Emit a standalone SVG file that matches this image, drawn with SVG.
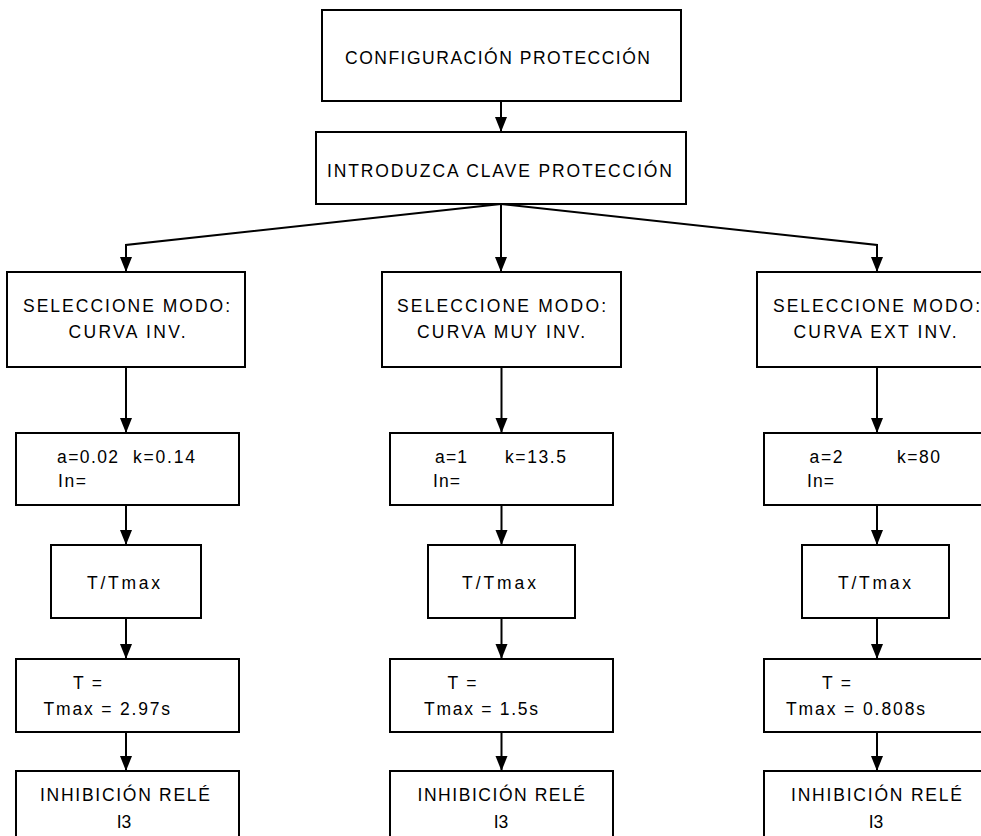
<svg xmlns="http://www.w3.org/2000/svg" width="981" height="836" viewBox="0 0 981 836">
<style>
.box{fill:#fff;stroke:#000;stroke-width:2}
.t{font-family:"Liberation Sans",Arial,sans-serif;font-size:17.5px;fill:#000}
.c{fill:none;stroke:#000;stroke-width:2}
</style>
<defs>
<marker id="ah" markerUnits="userSpaceOnUse" markerWidth="16" markerHeight="14" refX="15" refY="0" viewBox="0 -7 16 14" orient="auto" overflow="visible">
<path d="M0,-6 L15,0 L0,6 z" fill="#000"/>
</marker>
</defs>
<rect width="981" height="836" fill="#fff"/>
<g id="connectors">
<line class="c" x1="501" y1="101" x2="501" y2="132" marker-end="url(#ah)"/>
<polyline class="c" points="501,204 126,245 126,272" marker-end="url(#ah)"/>
<line class="c" x1="501" y1="204" x2="501" y2="272" marker-end="url(#ah)"/>
<polyline class="c" points="501,204 877,245 877,272" marker-end="url(#ah)"/>
<line class="c" x1="126" y1="367" x2="126" y2="433" marker-end="url(#ah)"/>
<line class="c" x1="501.5" y1="367" x2="501.5" y2="433" marker-end="url(#ah)"/>
<line class="c" x1="877" y1="367" x2="877" y2="433" marker-end="url(#ah)"/>
<line class="c" x1="126" y1="505" x2="126" y2="545" marker-end="url(#ah)"/>
<line class="c" x1="501.5" y1="505" x2="501.5" y2="545" marker-end="url(#ah)"/>
<line class="c" x1="877" y1="505" x2="877" y2="545" marker-end="url(#ah)"/>
<line class="c" x1="126" y1="618" x2="126" y2="659" marker-end="url(#ah)"/>
<line class="c" x1="501.5" y1="618" x2="501.5" y2="659" marker-end="url(#ah)"/>
<line class="c" x1="877" y1="618" x2="877" y2="659" marker-end="url(#ah)"/>
<line class="c" x1="126" y1="732" x2="126" y2="771" marker-end="url(#ah)"/>
<line class="c" x1="501.5" y1="732" x2="501.5" y2="771" marker-end="url(#ah)"/>
<line class="c" x1="877" y1="732" x2="877" y2="771" marker-end="url(#ah)"/>
</g>
<g id="config">
<rect class="box" x="322" y="10" width="359" height="91"/>
<text class="t" x="345" y="63.5" textLength="305" lengthAdjust="spacing">CONFIGURACIÓN PROTECCIÓN</text>
</g>
<g id="clave">
<rect class="box" x="316" y="132" width="370" height="72"/>
<text class="t" x="327" y="176.5" textLength="345" lengthAdjust="spacing">INTRODUZCA CLAVE PROTECCIÓN</text>
</g>
<g id="modo-inv">
<rect class="box" x="7" y="272" width="238" height="95"/>
<text class="t" x="23" y="311.5" textLength="207" lengthAdjust="spacing">SELECCIONE MODO:</text>
<text class="t" x="68.5" y="338" textLength="117" lengthAdjust="spacing">CURVA INV.</text>
</g>
<g id="modo-muy">
<rect class="box" x="382" y="272" width="239" height="95"/>
<text class="t" x="397" y="311.5" textLength="209" lengthAdjust="spacing">SELECCIONE MODO:</text>
<text class="t" x="417" y="338" textLength="168" lengthAdjust="spacing">CURVA MUY INV.</text>
</g>
<g id="modo-ext">
<rect class="box" x="757" y="272" width="239" height="95"/>
<text class="t" x="773" y="311.5" textLength="207" lengthAdjust="spacing">SELECCIONE MODO:</text>
<text class="t" x="793.5" y="338" textLength="163" lengthAdjust="spacing">CURVA EXT INV.</text>
</g>
<g id="param-inv">
<rect class="box" x="16" y="433" width="223" height="72"/>
<text class="t" x="57" y="462.5" textLength="61" lengthAdjust="spacing">a=0.02</text>
<text class="t" x="133" y="462.5" textLength="62" lengthAdjust="spacing">k=0.14</text>
<text class="t" x="58" y="486.5" textLength="28" lengthAdjust="spacing">In=</text>
</g>
<g id="param-muy">
<rect class="box" x="390" y="433" width="223" height="72"/>
<text class="t" x="435" y="462.5" textLength="32" lengthAdjust="spacing">a=1</text>
<text class="t" x="505" y="462.5" textLength="61" lengthAdjust="spacing">k=13.5</text>
<text class="t" x="433" y="486.5" textLength="27" lengthAdjust="spacing">In=</text>
</g>
<g id="param-ext">
<rect class="box" x="764" y="433" width="223" height="72"/>
<text class="t" x="809.5" y="462.5" textLength="33" lengthAdjust="spacing">a=2</text>
<text class="t" x="897" y="462.5" textLength="43" lengthAdjust="spacing">k=80</text>
<text class="t" x="807" y="486.5" textLength="27" lengthAdjust="spacing">In=</text>
</g>
<g id="ratio-inv">
<rect class="box" x="51" y="545" width="150" height="73"/>
<text class="t" x="87" y="588.5" textLength="73" lengthAdjust="spacing">T/Tmax</text>
</g>
<g id="ratio-muy">
<rect class="box" x="428" y="545" width="147" height="73"/>
<text class="t" x="462" y="588.5" textLength="74" lengthAdjust="spacing">T/Tmax</text>
</g>
<g id="ratio-ext">
<rect class="box" x="802" y="545" width="147" height="73"/>
<text class="t" x="838" y="588.5" textLength="73" lengthAdjust="spacing">T/Tmax</text>
</g>
<g id="time-inv">
<rect class="box" x="16" y="659" width="223" height="73"/>
<text class="t" x="73" y="688.5" textLength="29" lengthAdjust="spacing">T =</text>
<text class="t" x="43.5" y="715" textLength="126.5" lengthAdjust="spacing">Tmax = 2.97s</text>
</g>
<g id="time-muy">
<rect class="box" x="390" y="659" width="223" height="73"/>
<text class="t" x="447.5" y="688.5" textLength="29" lengthAdjust="spacing">T =</text>
<text class="t" x="424" y="715" textLength="114" lengthAdjust="spacing">Tmax = 1.5s</text>
</g>
<g id="time-ext">
<rect class="box" x="764" y="659" width="223" height="73"/>
<text class="t" x="822" y="688.5" textLength="29" lengthAdjust="spacing">T =</text>
<text class="t" x="786" y="715" textLength="139" lengthAdjust="spacing">Tmax = 0.808s</text>
</g>
<g id="inhib-inv">
<rect class="box" x="16" y="771" width="223" height="80"/>
<text class="t" x="40" y="801" textLength="170" lengthAdjust="spacing">INHIBICIÓN RELÉ</text>
<text class="t" x="124" y="827.5" text-anchor="middle">I3</text>
</g>
<g id="inhib-muy">
<rect class="box" x="390" y="771" width="223" height="80"/>
<text class="t" x="417.5" y="801" textLength="167.5" lengthAdjust="spacing">INHIBICIÓN RELÉ</text>
<text class="t" x="501" y="827.5" text-anchor="middle">I3</text>
</g>
<g id="inhib-ext">
<rect class="box" x="764" y="771" width="223" height="80"/>
<text class="t" x="791" y="801" textLength="171" lengthAdjust="spacing">INHIBICIÓN RELÉ</text>
<text class="t" x="876" y="827.5" text-anchor="middle">I3</text>
</g>
</svg>
